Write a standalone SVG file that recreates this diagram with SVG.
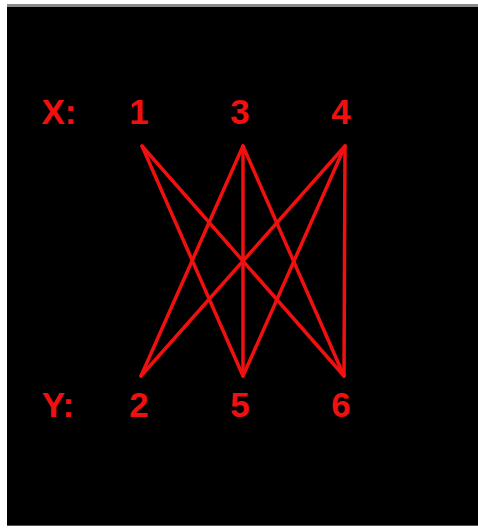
<svg xmlns="http://www.w3.org/2000/svg" width="478" height="529" viewBox="0 0 478 529">
<style>
.lbl{font-family:"Liberation Sans",Arial,sans-serif;font-weight:bold;font-size:35px;fill:#f01010;text-anchor:middle}
.edge{stroke:#f01010;stroke-width:3.5;stroke-linecap:round;fill:none}
</style>
<rect x="0" y="0" width="478" height="529" fill="#ffffff"/>
<rect x="7" y="4" width="471" height="3" fill="#8a8a8a"/>
<rect x="7" y="7" width="471" height="518" fill="#000000"/>
<rect x="7" y="525" width="471" height="1" fill="#555555"/>
<g id="connectors">
<line class="edge" x1="142" y1="146" x2="243" y2="376"/>
<line class="edge" x1="142" y1="146" x2="344" y2="376"/>
<line class="edge" x1="243" y1="146" x2="141" y2="376"/>
<line class="edge" x1="243" y1="146" x2="243" y2="376"/>
<line class="edge" x1="243" y1="146" x2="344" y2="376"/>
<line class="edge" x1="345" y1="146" x2="141" y2="376"/>
<line class="edge" x1="345" y1="146" x2="243" y2="376"/>
<line class="edge" x1="345" y1="146" x2="344" y2="376"/>
</g>
<g id="label-X"><text class="lbl" x="59" y="124">X:</text></g>
<g id="node-1"><text class="lbl" x="139" y="124">1</text></g>
<g id="node-3"><text class="lbl" x="240" y="124">3</text></g>
<g id="node-4"><text class="lbl" x="341" y="124">4</text></g>
<g id="label-Y"><text class="lbl" x="58" y="417">Y:</text></g>
<g id="node-2"><text class="lbl" x="139" y="417">2</text></g>
<g id="node-5"><text class="lbl" x="240" y="417">5</text></g>
<g id="node-6"><text class="lbl" x="341" y="417">6</text></g>
</svg>
